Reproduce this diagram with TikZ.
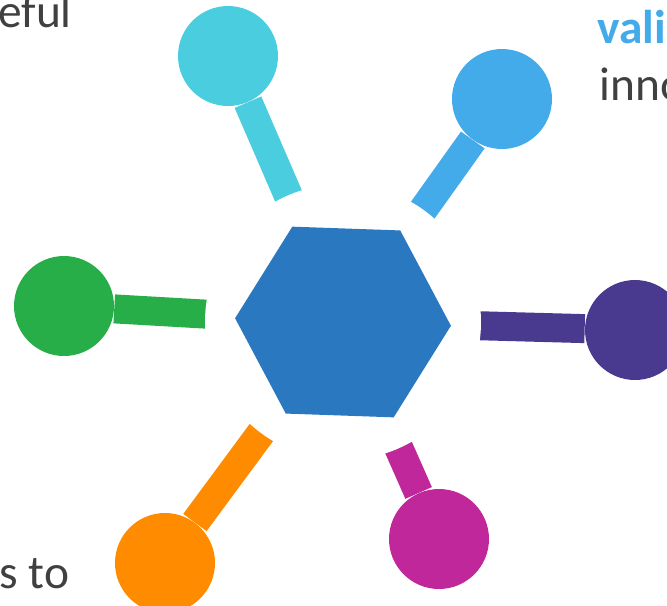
\documentclass[tikz,border=0pt]{standalone}
\usepackage{fontspec}
\setmainfont{Carlito}
\usetikzlibrary{shapes.geometric}

\definecolor{hubblue}{HTML}{2A78BF}
\definecolor{cyanc}{HTML}{4BCDE0}
\definecolor{skyc}{HTML}{44ABEB}
\definecolor{greenc}{HTML}{27AE49}
\definecolor{purplec}{HTML}{4A3A8F}
\definecolor{magentac}{HTML}{C0279A}
\definecolor{orangec}{HTML}{FF8C00}
\definecolor{textgray}{HTML}{404040}

\begin{document}
\begin{tikzpicture}
  [x=0.02cm, y=-0.02cm,
   dot/.style={circle, fill=#1, inner sep=0pt, minimum size=2cm},
   stem/.style={line width=0.58cm, draw=#1},
   hexa/.style={regular polygon, regular polygon sides=6, fill=hubblue,
                inner sep=0pt, minimum size=4.32cm, rotate=-2},
   txt/.style={anchor=base west, inner sep=0pt, text=textgray,
               font=\fontsize{27}{32}\selectfont}]

  \useasboundingbox (0,0) rectangle (667,606);

  % Centro
  \coordinate (c) at (343,322);

  % Bolas nas pontas dos braços
  \node[dot=cyanc] (tl) at (228,56) {};
  \node[dot=skyc] (tr) at (502,99) {};
  \node[dot=greenc] (ml) at (64,306) {};
  \node[dot=purplec] (mr) at (635,330) {};
  \node[dot=orangec] (bl) at (165,563) {};
  \node[dot=magentac] (br) at (439,539) {};

  % Braços
  \draw[stem=cyanc] (c) -- (tl);
  \draw[stem=skyc] (c) -- (tr);
  \draw[stem=greenc] (c) -- (ml);
  \draw[stem=purplec] (c) -- (mr);
  \draw[stem=orangec] (c) -- (bl);
  \draw[stem=magentac] (c) -- (br);

  % Anel branco e hexágono
  \fill[white] (c) circle (138);
  \node[hexa] (hub) at (c) {};

  % Textos
  \node[txt] (t1) at (-2,27) {eful};
  \node[txt, text=skyc, font=\fontsize{27}{32}\selectfont\bfseries] (t2) at (597,43) {vali};
  \node[txt] (t3) at (599,100) {inno};
  \node[txt] (t4) at (-1,588) {s to};
\end{tikzpicture}
\end{document}
